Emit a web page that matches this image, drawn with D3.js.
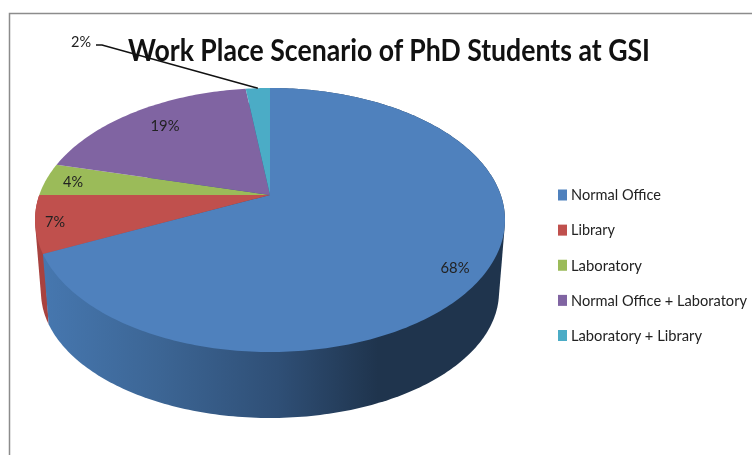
<!DOCTYPE html>
<html>
<head>
<meta charset="utf-8">
<script src="https://cdn.jsdelivr.net/npm/d3@7"></script>
<style>
html, body { margin: 0; background: #fff; }
svg { display: block; filter: blur(0.4px); }
text { font-family: Lato, "Open Sans", sans-serif; }
</style>
</head>
<body>
<script>
var categories = ["Normal Office", "Library", "Laboratory", "Normal Office + Laboratory", "Laboratory + Library"];
var values = [68, 7, 4, 19, 2];
var labels = ["68%", "7%", "4%", "19%", "2%"];
var colors = ["#4f81bd", "#c0504d", "#9bbb59", "#8064a2", "#4bacc6"];

var width = 752, height = 455;

// top face is an ellipse seen in perspective, apex sits above its centre
var face = {cx: 270, cy: 220, rx: 235, ry: 132},
    base = {cx: 270, cy: 292, rx: 229, ry: 126},
    apex = {x: 270, y: 195},
    tilt = (apex.y - face.cy) / face.ry;

// label anchors, same order as categories
var labelPos = [[455, 267], [55, 221], [73, 181], [165, 125], [81, 41]];

var svg = d3.select("body").append("svg")
    .attr("width", width)
    .attr("height", height);

var defs = svg.append("defs");
var grad = defs.append("linearGradient")
    .attr("id", "wallBlue")
    .attr("gradientUnits", "userSpaceOnUse")
    .attr("x1", 44).attr("x2", 378).attr("y1", 0).attr("y2", 0);
grad.append("stop").attr("offset", "0%").attr("stop-color", "#4677af");
grad.append("stop").attr("offset", "35%").attr("stop-color", "#3c6594");
grad.append("stop").attr("offset", "70%").attr("stop-color", "#2f4f76");
grad.append("stop").attr("offset", "100%").attr("stop-color", "#1f344d");

// frame of the pasted picture
svg.append("path")
    .attr("d", "M9.5," + height + "V13.5H" + width)
    .attr("fill", "none")
    .attr("stroke", "#8c8c8c")
    .attr("stroke-width", 1.5);

var pie = d3.pie().sort(null);
var arcs = pie(values);

// angle (clockwise from top) to point on the ellipse
function project(a, e) {
    var u = Math.sin(a), v = -Math.cos(a),
        d = 1 + tilt * v;
    return [e.cx + e.rx * u * Math.sqrt(1 - tilt * tilt) / d,
            e.cy + e.ry * (v + tilt) / d];
}

function rim(d, e) {
    var n = Math.max(2, Math.ceil((d.endAngle - d.startAngle) * 60));
    return d3.range(n + 1).map(function(i) {
        return project(d.startAngle + (d.endAngle - d.startAngle) * i / n, e);
    });
}

var line = d3.line();

// hull of both rims gives the straight silhouette of the wall
function wall(d) {
    return line(d3.polygonHull(rim(d, face).concat(rim(d, base)))) + "Z";
}

// walls: only library and normal office face the viewer
svg.append("path")
    .attr("d", wall(arcs[1]))
    .attr("fill", "#a8423f");
svg.append("path")
    .attr("d", wall(arcs[0]))
    .attr("fill", "url(#wallBlue)");

svg.selectAll(".slice")
    .data(arcs)
  .enter().append("path")
    .attr("class", "slice")
    .attr("fill", function(d, i) { return colors[i]; })
    .attr("d", function(d) {
        return line([[apex.x, apex.y]].concat(rim(d, face))) + "Z";
    });

svg.selectAll(".pct")
    .data(labels)
  .enter().append("text")
    .attr("class", "pct")
    .attr("x", function(d, i) { return labelPos[i][0]; })
    .attr("y", function(d, i) { return labelPos[i][1]; })
    .attr("text-anchor", "middle")
    .attr("dy", "0.35em")
    .attr("font-size", 16)
    .attr("textLength", function(d) { return d.length == 3 ? 29 : 20; })
    .attr("lengthAdjust", "spacingAndGlyphs")
    .attr("fill", "#222")
    .text(function(d) { return d; });

// leader for the 2% slice
var leaderEnd = project((arcs[4].startAngle + arcs[4].endAngle) / 2, face);
svg.append("path")
    .attr("d", line([[96, 45], [102, 45], leaderEnd]))
    .attr("fill", "none")
    .attr("stroke", "#111")
    .attr("stroke-width", 1.5);

svg.append("text")
    .attr("x", 128)
    .attr("y", 61)
    .attr("font-size", 31)
    .attr("font-weight", 700)
    .attr("textLength", 522)
    .attr("lengthAdjust", "spacingAndGlyphs")
    .attr("fill", "#111")
    .text("Work Place Scenario of PhD Students at GSI");

var legendY = d3.scalePoint().domain(categories).range([195, 335.5]);

var legend = svg.selectAll(".legend")
    .data(categories)
  .enter().append("g")
    .attr("class", "legend")
    .attr("transform", function(d) { return "translate(558," + legendY(d) + ")"; });

legend.append("rect")
    .attr("y", -5.5)
    .attr("width", 9)
    .attr("height", 11)
    .attr("fill", function(d, i) { return colors[i]; });

var legendWidths = [90, 44, 71, 176, 131];
legend.append("text")
    .attr("x", 13)
    .attr("dy", "0.35em")
    .attr("font-size", 15)
    .attr("textLength", function(d, i) { return legendWidths[i]; })
    .attr("lengthAdjust", "spacingAndGlyphs")
    .attr("fill", "#222")
    .text(function(d) { return d; });
</script>
</body>
</html>
